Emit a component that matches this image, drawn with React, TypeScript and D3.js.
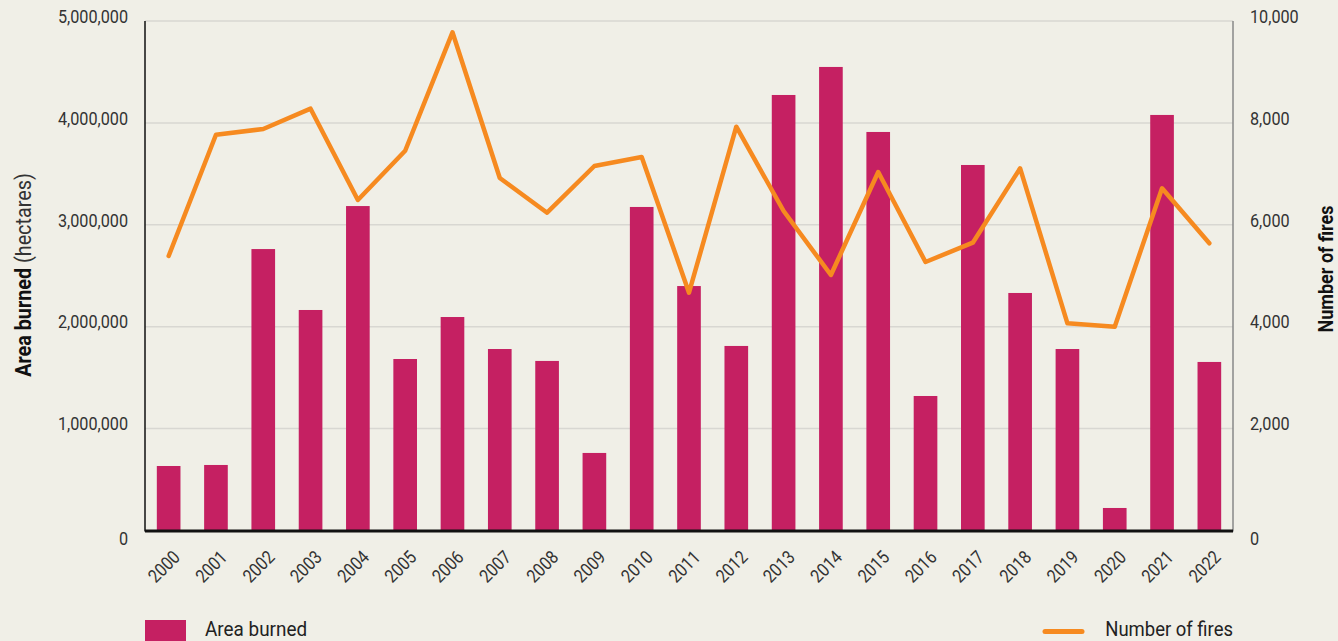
import React from "react";
import * as d3 from "d3";

const years = ["2000","2001","2002","2003","2004","2005","2006","2007","2008","2009","2010","2011","2012","2013","2014","2015","2016","2017","2018","2019","2020","2021","2022"];
const areaBurned = [633000, 643000, 2762000, 2164000, 3184000, 1683000, 2095000, 1781000, 1664000, 761000, 3175000, 2399000, 1811000, 4274000, 4549000, 3911000, 1320000, 3587000, 2331000, 1781000, 221000, 4078000, 1654000];
const numberOfFires = [5388, 7768, 7880, 8279, 6487, 7454, 9778, 6919, 6237, 7154, 7330, 4667, 7925, 6271, 5015, 7036, 5270, 5649, 7109, 4067, 4000, 6716, 5637];
const leftTicks = [0, 1000000, 2000000, 3000000, 4000000, 5000000];
const rightTicks = [0, 2000, 4000, 6000, 8000, 10000];

const W = 1338, H = 641;
const PL = 145, PR = 1233, PT = 21, PB = 530.5;
const BG = "#f0efe7";
const BAR = "#c52062";
const LINE = "#f68a20";
const TXT = "#333333";
const FONT = "Roboto, 'Noto Sans', sans-serif";

type TP = {
  x: number; y: number; size: number; sx?: number; rot?: number;
  anchor?: "start" | "middle" | "end"; weight?: string; fill?: string;
  baseline?: string; children: React.ReactNode;
};
function Label({ x, y, size, sx = 0.87, rot = 0, anchor = "start", weight = "normal", fill = TXT, baseline, children }: TP) {
  return (
    <text
      transform={`translate(${x},${y}) rotate(${rot}) scale(${sx},1)`}
      textAnchor={anchor}
      fontSize={size}
      fontWeight={weight}
      fill={fill}
      dominantBaseline={baseline as any}
    >
      {children}
    </text>
  );
}

export default function App() {
  const x = d3.scaleBand<string>().domain(years).range([PL, PR]).paddingInner(0.5).paddingOuter(0.25);
  const yL = d3.scaleLinear().domain([0, 5000000]).range([PB, PT]);
  const yR = d3.scaleLinear().domain([0, 10000]).range([PB, PT]);
  const fmt = d3.format(",");
  const line = d3.line<number>()
    .x((_, i) => (x(years[i]) as number) + x.bandwidth() / 2)
    .y((d) => yR(d));

  return (
    <svg width={W} height={H} style={{ position: "absolute", left: 0, top: 0, background: BG, fontFamily: FONT }}>
      <rect x={0} y={0} width={W} height={H} fill={BG} />
      {leftTicks.filter((t) => t > 0).map((t) => (
        <line key={"g" + t} x1={PL} x2={PR} y1={yL(t)} y2={yL(t)} stroke="#d8d7d2" strokeWidth={1.5} />
      ))}
      {areaBurned.map((v, i) => (
        <rect key={"b" + i} x={x(years[i])} y={yL(v)} width={x.bandwidth()} height={PB - yL(v)} fill={BAR} />
      ))}
      <path d={line(numberOfFires) || ""} fill="none" stroke={LINE} strokeWidth={4.5} strokeLinejoin="round" strokeLinecap="round" />
      <line x1={PL} x2={PL} y1={PT} y2={PB + 1} stroke="#111" strokeWidth={1.5} />
      <line x1={PR} x2={PR} y1={PT} y2={PB + 1} stroke="#888" strokeWidth={1.5} />
      <line x1={PL} x2={PR} y1={PB + 0.5} y2={PB + 0.5} stroke="#111" strokeWidth={3} />
      {leftTicks.map((t) => (
        <Label key={"l" + t} x={128} y={t === 0 ? yL(t) + 10 : yL(t) - 3} anchor="end" baseline="middle" size={18} sx={0.9}>{fmt(t)}</Label>
      ))}
      {rightTicks.map((t) => (
        <Label key={"r" + t} x={1250} y={t === 0 ? yR(t) + 10 : yR(t) - 3} anchor="start" baseline="middle" size={18} sx={0.9}>{fmt(t)}</Label>
      ))}
      {years.map((y) => {
        const cx = (x(y) as number) + x.bandwidth() / 2;
        return (
          <Label key={"x" + y} x={cx + 9} y={555} rot={-45} anchor="end" baseline="middle" size={18.5} sx={0.86}>{y}</Label>
        );
      })}
      <Label x={31} y={275} rot={-90} anchor="middle" size={22} sx={0.9} fill="#111">
        <tspan fontWeight="bold">Area burned</tspan>
        <tspan fill="#333"> (hectares)</tspan>
      </Label>
      <Label x={1333} y={269} rot={-90} anchor="middle" size={20.5} sx={0.88} weight="bold" fill="#111">Number of fires</Label>
      <rect x={145} y={620} width={41} height={25} fill={BAR} />
      <Label x={205} y={636} size={21} sx={0.9} fill="#222">Area burned</Label>
      <line x1={1045} x2={1082} y1={631.5} y2={631.5} stroke={LINE} strokeWidth={5} strokeLinecap="round" />
      <Label x={1233} y={636} anchor="end" size={21} sx={0.88} fill="#222">Number of fires</Label>
    </svg>
  );
}
